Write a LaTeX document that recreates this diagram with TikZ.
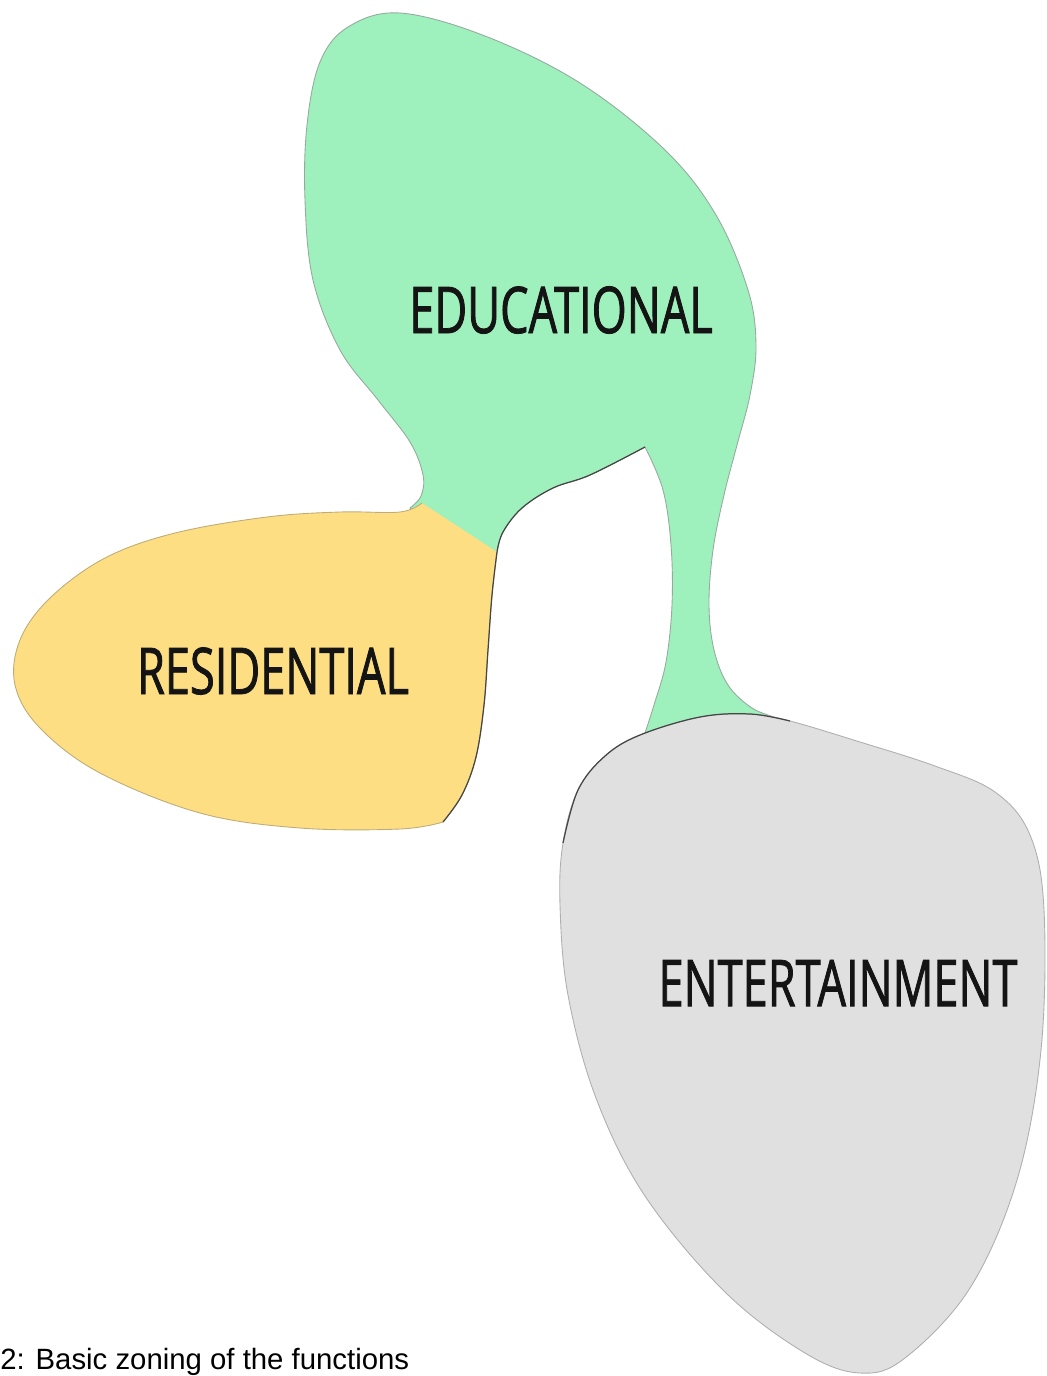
\documentclass[tikz,border=0pt]{standalone}
\usepackage{fontspec}
\newfontfamily\zonefont[FakeStretch=0.7,FakeBold=1.2]{Open Sans}
\newfontfamily\capfont{Liberation Sans}

\definecolor{eduGreen}{RGB}{158,240,188}
\definecolor{resYellow}{RGB}{253,222,130}
\definecolor{entGrey}{RGB}{224,224,224}
\definecolor{eduLine}{RGB}{150,170,160}
\definecolor{resLine}{RGB}{190,172,120}
\definecolor{entLine}{RGB}{175,175,175}
\definecolor{edgeDark}{RGB}{70,70,70}

\begin{document}
\begin{tikzpicture}[x=0.02cm,y=-0.02cm,
	zone/.style={line width=0.5pt},
	darkedge/.style={draw=edgeDark,line width=0.7pt},
	zonelabel/.style={font=\zonefont\fontsize{36.7}{40}\selectfont,inner sep=0pt,text=black!92}]
	\useasboundingbox (0,0) rectangle (1047,1376);

	% educational zone, its stem runs under the other two
	\filldraw[zone,fill=eduGreen,draw=eduLine]
		plot[smooth,tension=0.6] coordinates {(645,447) (663,490) (671,545) (672,605) (666,662) (654,705) (642,742)}
		-- plot[smooth,tension=0.6] coordinates {(800,736) (780,720) (752,708) (728,685) (714,650) (709,605) (713,550) (724,495) (737,445) (750,395) (756,345) (748,290) (716,215) (665,150) (580,83) (485,36) (400,13) (348,27) (320,62) (307,125) (305,200) (313,280) (340,350) (378,400) (410,442) (423,475) (421,496) (410,508)}
		-- (445,545) -- (490,565)
		-- plot[smooth,tension=0.6] coordinates {(497,552) (503,532) (522,508) (553,488) (590,475) (645,447)} -- cycle;
	\draw[darkedge] plot[smooth,tension=0.6] coordinates {(497,552) (503,532) (522,508) (553,488) (590,475) (645,447)};

	% residential zone
	\path[save path=\resborder]
		plot[smooth,tension=0.6] coordinates {(497,552) (492,595) (488,650) (484,705) (476,757) (462,795) (443,822)}
		-- plot[smooth,tension=0.6] coordinates {(443,822) (400,829) (300,828) (200,813) (100,773) (40,728) (15,685) (20,640) (50,598) (105,558) (175,533) (267,517) (340,512) (400,512) (422,503)};
	\fill[fill=resYellow,use path=\resborder];
	\draw[zone,draw=resLine,use path=\resborder];
	\draw[darkedge] plot[smooth,tension=0.6] coordinates {(497,552) (492,595) (488,650) (484,705) (476,757) (462,795) (443,822)};

	% entertainment zone
	\filldraw[zone,fill=entGrey,draw=entLine]
		plot[smooth cycle,tension=0.6] coordinates {(563,843) (578,790) (605,756) (640,735) (700,717) (750,714) (790,721) (860,742) (935,766) (995,792) (1030,835) (1044,910) (1041,1050) (1017,1180) (970,1288) (905,1358) (860,1373) (805,1353) (725,1292) (645,1196) (596,1098) (568,995) (560,905)};
	\draw[darkedge] plot[smooth,tension=0.6] coordinates {(563,843) (578,790) (605,756) (640,735) (700,717) (750,714) (790,721)};

	\node[zonelabel] (edu) at (561,310) {EDUCATIONAL};
	\node[zonelabel] (res) at (273,671) {RESIDENTIAL};
	\node[zonelabel] (ent) at (838,983) {ENTERTAINMENT};

	\node[font=\capfont\fontsize{16.7}{20}\selectfont,inner sep=0pt,anchor=base west] (caption) at (0,1369) {2: Basic zoning of the functions};
\end{tikzpicture}
\end{document}
